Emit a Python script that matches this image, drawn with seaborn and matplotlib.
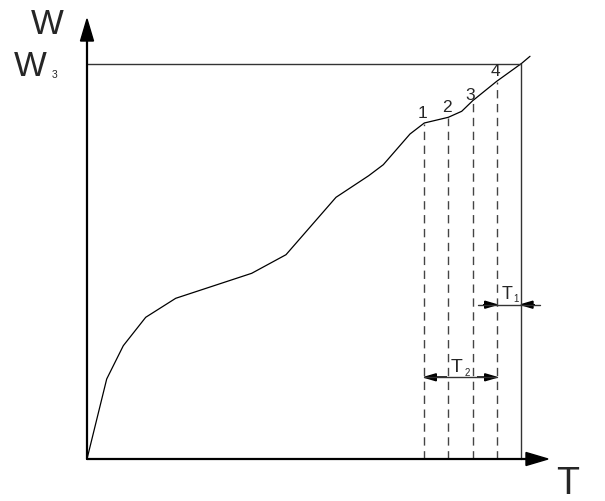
import numpy as np
import pandas as pd
import seaborn as sns
import matplotlib
matplotlib.use("Agg")
import matplotlib.pyplot as plt

# curve W(T), units (origin at the axes corner)
curve_t = [0, 19.7, 36.3, 58.7, 88.7, 164.7, 199, 249, 281.7, 296.3,
           323, 337.3, 361.3, 374.7, 385.7, 409.7, 434.7, 443]
curve_w = [0, 80, 113.3, 141.7, 160.7, 185.7, 204.3, 261.7, 283.3, 294.3,
           325, 336, 341.7, 347.7, 358.3, 377.7, 395.7, 402.7]

# numbered points 1..4 and their dashed drop lines
mark_labels = ["1", "2", "3", "4"]
mark_t = [337.3, 361.3, 385.7, 409.7]
mark_w = [336, 341.7, 358.3, 377.7]

# frame: end of T range and level W3
t_end = 434
w3 = 395

sns.set_style("white")
plt.rcParams["font.family"] = ["Liberation Sans", "DejaVu Sans"]

fig = plt.figure(figsize=(6.05, 5.02), dpi=100)
ax = fig.add_axes([0, 0, 1, 1])
ax.set_xlim(-87, 518)
ax.set_ylim(-42, 460)
ax.axis("off")

df = pd.DataFrame({"T": curve_t, "W": curve_w})
sns.lineplot(data=df, x="T", y="W", ax=ax, color="black", lw=0.9,
             sort=False, estimator=None)

# frame lines
ax.plot([0, t_end], [w3, w3], color="#333333", lw=1)
ax.plot([t_end, t_end], [0, w3], color="#333333", lw=1)

# dashed drop lines
for t, w in zip(mark_t, mark_w):
    ax.plot([t, t], [0, w - 1], color="#444444", lw=1, ls=(0, (6, 4)))

# point numbers
label_pos = [(335.7, 347), (359.7, 352), (383, 365), (408, 389)]
for lab, (x, y) in zip(mark_labels, label_pos):
    ax.text(x, y, lab, fontsize=12.5, ha="center", va="center")

# main axes with arrows
ax.plot([0, 0], [0, 420], color="black", lw=1.6)
ax.arrow(0, 418, 0, 22, width=0, head_width=13, head_length=22,
         length_includes_head=True, fc="black", ec="black")
ax.plot([0, 441], [0, 0], color="black", lw=1.6)
ax.arrow(439, 0, 22, 0, width=0, head_width=13, head_length=22,
         length_includes_head=True, fc="black", ec="black")

# T1 dimension (arrows pointing inward)
y1 = 154.3
ax.plot([390.7, 453], [y1, y1], color="#333333", lw=1)
ax.arrow(396, y1, mark_t[3] - 396, 0, width=0, head_width=7, head_length=12,
         length_includes_head=True, fc="black", ec="black")
ax.arrow(448, y1, t_end - 448, 0, width=0, head_width=7, head_length=12,
         length_includes_head=True, fc="black", ec="black")
ax.text(419.7, 165.7, "T", fontsize=13, ha="center", va="center")
ax.text(429, 161.5, "1", fontsize=7, ha="center", va="center")

# T2 dimension (arrows pointing outward)
y2 = 81.7
ax.plot([mark_t[0], mark_t[3]], [y2, y2], color="#333333", lw=1)
ax.arrow(360, y2, mark_t[0] - 360, 0, width=0, head_width=7, head_length=12,
         length_includes_head=True, fc="black", ec="black")
ax.arrow(390, y2, mark_t[3] - 390, 0, width=0, head_width=7, head_length=12,
         length_includes_head=True, fc="black", ec="black")
ax.text(370, 92, "T", fontsize=14, ha="center", va="center")
ax.text(380, 87.5, "2", fontsize=7, ha="center", va="center")

# axis labels
ax.text(-40, 435, "W", fontsize=25, ha="center", va="center")
ax.text(-57, 394, "W", fontsize=25, ha="center", va="center")
ax.text(-32, 385, "3", fontsize=7.5, ha="center", va="center")
ax.text(481, -24, "T", fontsize=27, ha="center", va="center")

fig.savefig("out.png", dpi=100)
